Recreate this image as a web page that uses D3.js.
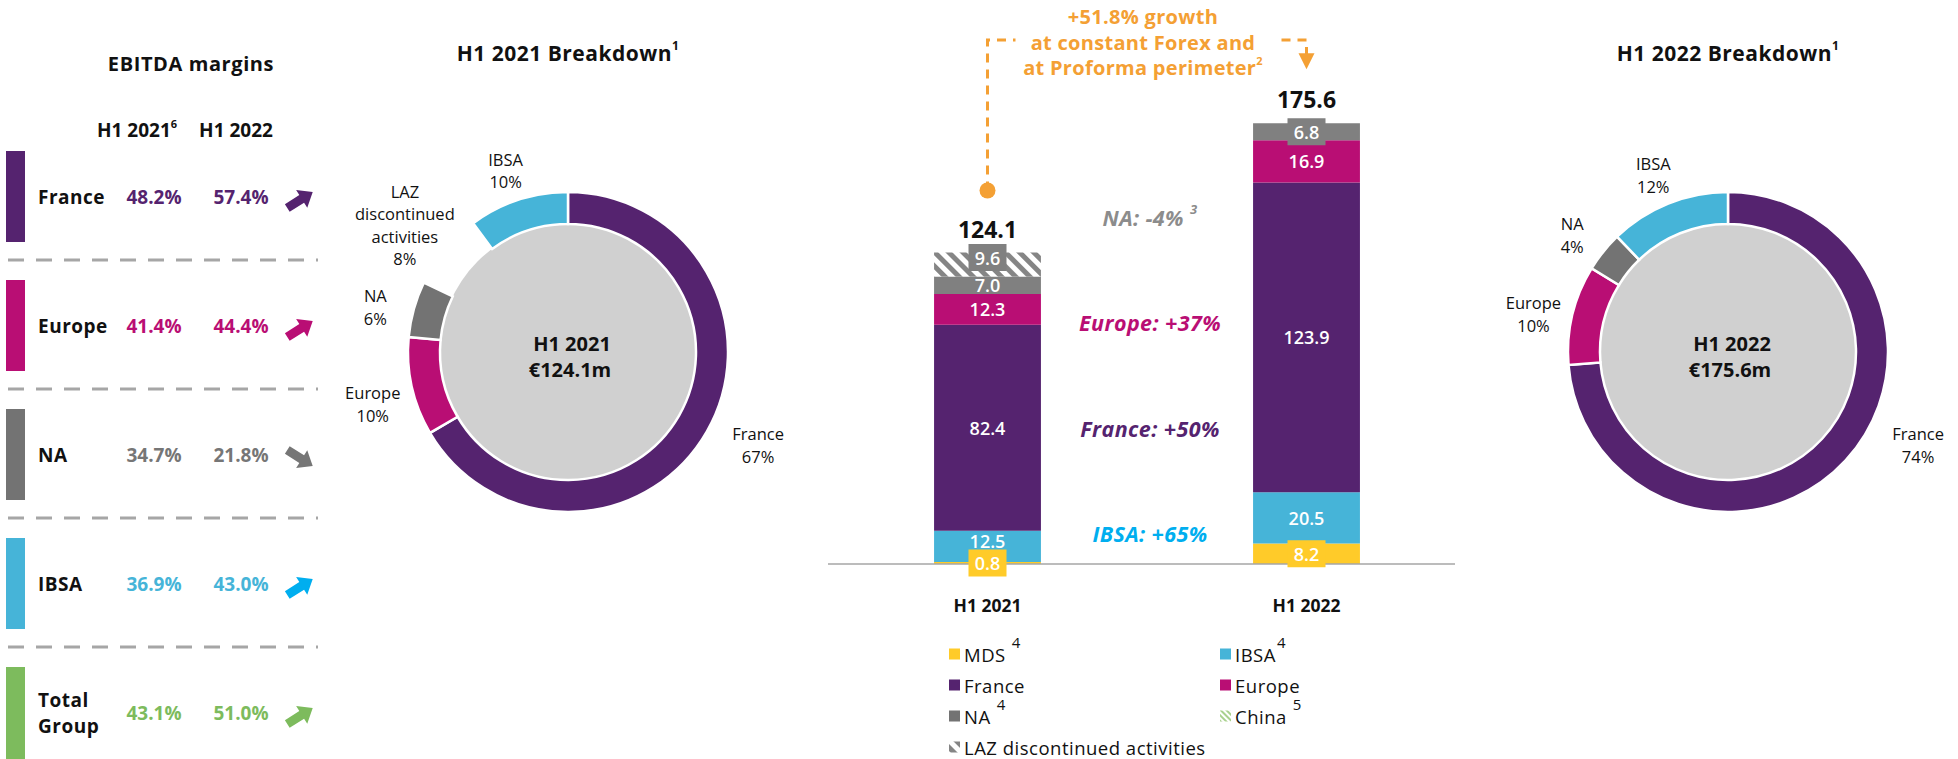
<!DOCTYPE html>
<html>
<head>
<meta charset="utf-8">
<script src="https://cdn.jsdelivr.net/npm/d3@7"></script>
<style>
  body { margin: 0; background: #fff; }
  svg { display: block; font-family: "Open Sans", sans-serif; }
</style>
</head>
<body>
<svg id="chart" width="1958" height="759"></svg>
<script>
// ================= DATA ================= //
// EBITDA margins table
const marginRegions = ["France", "Europe", "NA", "IBSA", "Total Group"];
const margin2021 = [48.2, 41.4, 34.7, 36.9, 43.1];
const margin2022 = [57.4, 44.4, 21.8, 43.0, 51.0];

// stacked bars (EUR m)
const periods = ["H1 2021", "H1 2022"];
const totals = [124.1, 175.6];
const segments = ["MDS", "IBSA", "France", "Europe", "NA", "LAZ"];
const mdsValues = [0.8, 8.2];
const ibsaValues = [12.5, 20.5];
const franceValues = [82.4, 123.9];
const europeValues = [12.3, 16.9];
const naValues = [7.0, 6.8];
const lazValues = [9.6, 0];

// growth notes between the bars
const noteTexts = ["NA: -4%", "Europe: +37%", "France: +50%", "IBSA: +65%"];
const noteSups = ["3", "", "", ""];
const growthLines = ["+51.8% growth", "at constant Forex and", "at Proforma perimeter"];

// donuts
const donut2021Names = ["France", "Europe", "NA", "LAZ discontinued activities", "IBSA"];
const donut2021Values = [82.4, 12.3, 7.0, 9.6, 12.5];
const donut2021Pct = ["67%", "10%", "6%", "8%", "10%"];
const donut2022Names = ["France", "Europe", "NA", "IBSA"];
const donut2022Values = [123.9, 16.9, 6.8, 20.5];
const donut2022Pct = ["74%", "10%", "4%", "12%"];

// legend
const legendNames = ["MDS", "IBSA", "France", "Europe", "NA", "China", "LAZ discontinued activities"];
const legendSups = ["4", "4", "", "", "4", "5", ""];

// ================= STYLE ================= //
const col = {
  France: "#55236F", Europe: "#B90E74", NA: "#737373", IBSA: "#46B4D8",
  MDS: "#FFCB29", Total: "#7DBB5D", orange: "#F4A034", text: "#111"
};
const valueCol = { France: col.France, Europe: col.Europe, NA: "#767676", IBSA: col.IBSA, "Total Group": col.Total };
const arrowCol = { France: col.France, Europe: col.Europe, NA: "#767676", IBSA: "#00AEEF", "Total Group": col.Total };
const noteCol = ["#8C8C8C", col.Europe, col.France, "#00AEEF"];

const svg = d3.select("#chart");
const defs = svg.append("defs");

function hatch(id, c, w) {
  const p = defs.append("pattern").attr("id", id)
    .attr("patternUnits", "userSpaceOnUse")
    .attr("width", w).attr("height", w)
    .attr("patternTransform", "rotate(-45)");
  p.append("rect").attr("width", w).attr("height", w).attr("fill", "#fff");
  p.append("rect").attr("width", w / 2).attr("height", w).attr("fill", c);
}
hatch("hatchLaz", "#858585", 10);
hatch("hatchChina", "#A9D18E", 4);

// ================= TABLE EBITDA ================= //
svg.append("text").attr("x", 191).attr("y", 63).attr("text-anchor", "middle")
  .attr("dominant-baseline", "central").attr("font-weight", 700).attr("font-size", 20)
  .attr("letter-spacing", 0.6).attr("fill", col.text).text("EBITDA margins");

const head = svg.append("g").attr("font-weight", 700).attr("font-size", 19).attr("fill", col.text);
const h1 = head.append("text").attr("x", 137).attr("y", 130).attr("text-anchor", "middle").attr("dominant-baseline", "central");
h1.append("tspan").text("H1 2021");
h1.append("tspan").attr("font-size", 11).attr("dy", -7).text("6");
head.append("text").attr("x", 236).attr("y", 130).attr("text-anchor", "middle").attr("dominant-baseline", "central").text("H1 2022");

const rowTop = i => 151 + i * 129;
const arrowPath = "M-15,-4.5 L2,-4.5 L2,-10.5 L15,0 L2,10.5 L2,4.5 L-15,4.5 Z";

marginRegions.forEach((r, i) => {
  const top = rowTop(i);
  const mid = top + 46;
  const g = svg.append("g");
  g.append("rect").attr("x", 6).attr("y", top).attr("width", 19)
    .attr("height", i === marginRegions.length - 1 ? 759 - top : 91)
    .attr("fill", r === "Total Group" ? col.Total : col[r]);

  const lbl = g.append("text").attr("x", 38).attr("font-weight", 700).attr("font-size", 19)
    .attr("letter-spacing", 0.5).attr("fill", col.text).attr("dominant-baseline", "central");
  const words = r.split(" ");
  words.forEach((w, k) => {
    lbl.append("tspan").attr("x", 38)
      .attr("y", mid + (k - (words.length - 1) / 2) * 26).text(w);
  });

  [margin2021[i], margin2022[i]].forEach((v, k) => {
    g.append("text").attr("x", k === 0 ? 154 : 241).attr("y", mid)
      .attr("text-anchor", "middle").attr("dominant-baseline", "central")
      .attr("font-weight", 700).attr("font-size", 19).attr("fill", valueCol[r])
      .text(v.toFixed(1) + "%");
  });

  const up = margin2022[i] >= margin2021[i];
  g.append("path").attr("d", arrowPath).attr("fill", arrowCol[r])
    .attr("transform", `translate(300,${mid + 3}) rotate(${up ? -32 : 32})`);

  if (i < marginRegions.length - 1) {
    g.append("line").attr("x1", 8).attr("x2", 318)
      .attr("y1", top + 91 + 18).attr("y2", top + 91 + 18)
      .attr("stroke", "#A6A6A6").attr("stroke-width", 3).attr("stroke-dasharray", "16,12");
  }
});

// ================= DONUTS ================= //
function drawDonut(cx, cy, names, values, pcts, year, total) {
  const g = svg.append("g").attr("transform", `translate(${cx},${cy})`);
  const pie = d3.pie().sort(null).value(d => d.v);
  const arc = d3.arc().innerRadius(128).outerRadius(160);
  const arcs = pie(names.map((n, i) => ({ n, v: values[i], p: pcts[i] })));
  const fillOf = n => n.startsWith("LAZ") ? "none" : col[n];

  g.append("circle").attr("r", 128).attr("fill", "#D0D0D0");
  g.selectAll("path.slice").data(arcs).join("path").attr("class", "slice")
    .attr("d", arc).attr("fill", d => fillOf(d.data.n))
    .attr("stroke", d => fillOf(d.data.n) === "none" ? "none" : "#fff")
    .attr("stroke-width", 2.5);

  arcs.forEach(d => {
    const lines = (d.data.n.startsWith("LAZ") ? d.data.n.split(" ") : [d.data.n]).concat([d.data.p]);
    let a = (d.startAngle + d.endAngle) / 2;
    let r = 200 + 6 * (lines.length - 2);
    let dy = 8;
    // big lower-right slice: label sits higher, next to the ring
    if (a > Math.PI / 2 && a < Math.PI) { a = Math.min(a, 2.02); r = 211; dy = 1; }
    const px = r * Math.sin(a), py = -r * Math.cos(a) + dy;
    const lh = 22.5;
    const t = g.append("text").attr("text-anchor", "middle").attr("dominant-baseline", "central")
      .attr("font-size", 16.5).attr("fill", col.text);
    lines.forEach((l, k) => {
      t.append("tspan").attr("x", px).attr("y", py + (k - (lines.length - 1) / 2) * lh).text(l);
    });
  });

  const c = g.append("text").attr("text-anchor", "middle").attr("dominant-baseline", "central")
    .attr("font-weight", 700).attr("font-size", 20).attr("fill", col.text);
  c.append("tspan").attr("x", 4).attr("y", -9).text(year);
  c.append("tspan").attr("x", 2).attr("y", 17).text("€" + total.toFixed(1) + "m");

  const tt = svg.append("text").attr("x", cx).attr("y", 53).attr("text-anchor", "middle")
    .attr("dominant-baseline", "central").attr("font-weight", 700).attr("font-size", 21)
    .attr("letter-spacing", 0.5).attr("fill", col.text);
  tt.append("tspan").text(year + " Breakdown");
  tt.append("tspan").attr("font-size", 12).attr("dy", -8).text("1");
}
drawDonut(568, 352, donut2021Names, donut2021Values, donut2021Pct, periods[0], totals[0]);
drawDonut(1728, 352, donut2022Names, donut2022Values, donut2022Pct, periods[1], totals[1]);

// ================= STACKED BARS ================= //
const y = d3.scaleLinear().domain([0, 200]).range([564, 64]);
const x = d3.scaleBand().domain(periods).range([828, 1466]).paddingInner(0.665).paddingOuter(0.3325);
const bw = x.bandwidth();

const rows = periods.map((p, i) => ({
  period: p, MDS: mdsValues[i], IBSA: ibsaValues[i], France: franceValues[i],
  Europe: europeValues[i], NA: naValues[i], LAZ: lazValues[i]
}));
const stacked = d3.stack().keys(segments)(rows);
const barFill = { MDS: col.MDS, IBSA: col.IBSA, France: col.France, Europe: col.Europe, NA: "#808080", LAZ: "url(#hatchLaz)" };

const bars = svg.append("g");
stacked.forEach(s => {
  bars.selectAll(null).data(s.filter(d => d[1] - d[0] > 0)).join("rect")
    .attr("x", d => x(d.data.period)).attr("width", bw)
    .attr("y", d => y(d[1])).attr("height", d => y(d[0]) - y(d[1]))
    .attr("fill", barFill[s.key]);
});

svg.append("line").attr("x1", 828).attr("x2", 1455).attr("y1", y(0)).attr("y2", y(0))
  .attr("stroke", "#A6A6A6").attr("stroke-width", 1.5);

// value labels
const labels = svg.append("g").attr("font-size", 18).attr("font-weight", 600);
stacked.forEach(s => {
  s.forEach((d, i) => {
    const v = d[1] - d[0];
    if (v <= 0) return;
    const cx = x(d.data.period) + bw / 2;
    const mid = y((d[0] + d[1]) / 2);
    const isTop = segments.slice(segments.indexOf(s.key) + 1).every(k => d.data[k] === 0);
    const boxed = s.key === "MDS" || s.key === "LAZ" || (s.key === "NA" && isTop);
    let ty = mid;
    if (boxed) {
      if (s.key === "LAZ") ty = mid - 7;
      labels.append("rect").attr("x", cx - 19).attr("y", ty - 13.5).attr("width", 38).attr("height", 27)
        .attr("fill", s.key === "MDS" ? col.MDS : "#808080");
    } else if (s.key === "IBSA") {
      ty = Math.min(mid, y(d[0]) - 21);
    }
    labels.append("text").attr("x", cx).attr("y", ty).attr("text-anchor", "middle")
      .attr("dominant-baseline", "central").attr("fill", "#fff").text(v.toFixed(1));
  });
});

// totals and categories
const topStack = stacked[stacked.length - 1];
periods.forEach((p, i) => {
  svg.append("text").attr("x", x(p) + bw / 2).attr("y", y(topStack[i][1]) - 24)
    .attr("text-anchor", "middle").attr("dominant-baseline", "central")
    .attr("font-weight", 700).attr("font-size", 23).attr("fill", col.text).text(totals[i].toFixed(1));
  svg.append("text").attr("x", x(p) + bw / 2).attr("y", 605)
    .attr("text-anchor", "middle").attr("dominant-baseline", "central")
    .attr("font-weight", 700).attr("font-size", 17.5).attr("fill", col.text).text(p);
});

// growth notes
const noteY = [217, 322, 428, 533];
noteTexts.forEach((n, i) => {
  const t = svg.append("text").attr("x", 1150).attr("y", noteY[i]).attr("text-anchor", "middle")
    .attr("dominant-baseline", "central").attr("font-style", "italic").attr("font-weight", 700)
    .attr("font-size", 21.5).attr("letter-spacing", 0.4).attr("fill", noteCol[i]);
  t.append("tspan").text(n);
  if (noteSups[i]) t.append("tspan").attr("font-size", 13).attr("dx", 6).attr("dy", -8).text(noteSups[i]);
});

// growth annotation
const x0 = x(periods[0]) + bw / 2, x1 = x(periods[1]) + bw / 2;
const dotY = y(topStack[0][1]) - 62, arrowY = y(topStack[1][1]) - 54;
const ann = svg.append("g").attr("stroke", col.orange).attr("stroke-width", 3)
  .attr("fill", "none").attr("stroke-dasharray", "9,7");
ann.append("path").attr("d", `M${x0},${dotY} V40 H${x0 + 28}`);
ann.append("path").attr("d", `M${x1 - 25},40 H${x1} V${arrowY - 14}`);
svg.append("circle").attr("cx", x0).attr("cy", dotY).attr("r", 8).attr("fill", col.orange);
svg.append("path").attr("d", `M${x1 - 8},${arrowY - 16} L${x1 + 8},${arrowY - 16} L${x1},${arrowY} Z`).attr("fill", col.orange);

const gt = svg.append("text").attr("text-anchor", "middle").attr("font-weight", 700)
  .attr("font-size", 20).attr("letter-spacing", 0.3).attr("fill", col.orange).attr("dominant-baseline", "central");
growthLines.forEach((l, i) => {
  gt.append("tspan").attr("x", (x0 + x1) / 2 - 4).attr("y", 16 + i * 25.5).text(l);
  if (i === growthLines.length - 1) {
    gt.append("tspan").attr("font-size", 11).attr("dy", -7).text("2");
  }
});

// ================= LEGEND ================= //
const legend = svg.append("g").attr("font-size", 18.5).attr("letter-spacing", 0.5).attr("fill", col.text);
const legendFill = { MDS: col.MDS, IBSA: col.IBSA, France: col.France, Europe: col.Europe, NA: "#737373", China: "url(#hatchChina)" };
legendNames.forEach((n, i) => {
  const lx = i % 2 === 0 ? 949 : 1220;
  const ly = 654 + Math.floor(i / 2) * 31;
  legend.append("rect").attr("x", lx).attr("y", ly - 5.5).attr("width", 11).attr("height", 11)
    .attr("fill", legendFill[n] || "url(#hatchLaz)");
  const t = legend.append("text").attr("x", lx + 15).attr("y", ly).attr("dominant-baseline", "central");
  t.append("tspan").text(n);
  if (legendSups[i]) t.append("tspan").attr("font-size", 15).attr("dx", n === "IBSA" ? 1 : 6).attr("dy", -12).text(legendSups[i]);
});
</script>
</body>
</html>
